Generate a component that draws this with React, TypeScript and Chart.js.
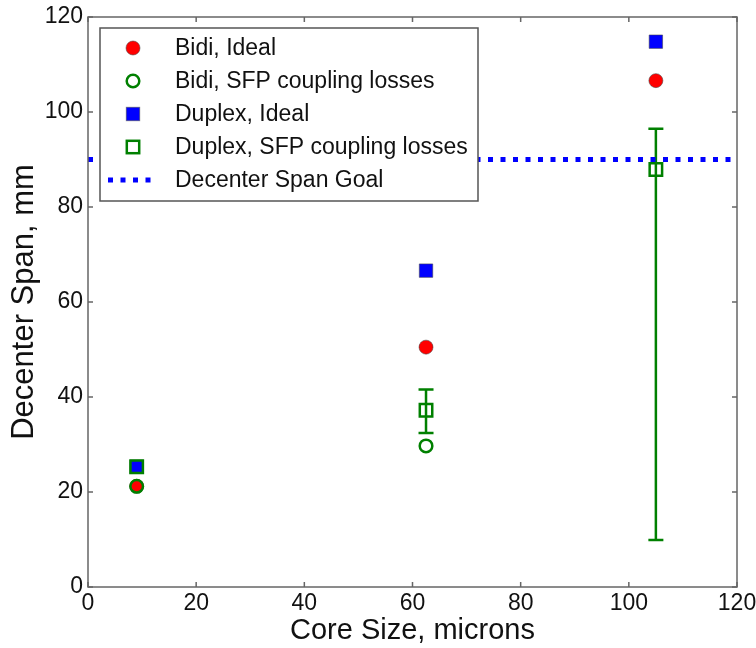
import { useEffect, useRef } from "react";
import { Chart, registerables } from "chart.js";
Chart.register(...registerables);

const FONT = "'Liberation Sans', Arial, sans-serif";

const coreSizes = [9, 62.5, 105];
const bidiIdeal = [21.2, 50.5, 106.6];
const bidiSfp = [21.2, 29.7, null];
const duplexIdeal = [25.3, 66.6, 114.8];
const duplexSfp = [25.3, 37.2, 87.9];
const duplexSfpLow = [null, 32.4, 9.9];
const duplexSfpHigh = [null, 41.6, 96.5];
const goalSpan = [0, 120];
const goalValue = 90;
const xTicks = [0, 20, 40, 60, 80, 100, 120];
const yTicks = [0, 20, 40, 60, 80, 100, 120];

const seriesNames = [
  "Bidi, Ideal",
  "Bidi, SFP coupling losses",
  "Duplex, Ideal",
  "Duplex, SFP coupling losses",
  "Decenter Span Goal",
];

const toPts = (ys: (number | null)[]) =>
  coreSizes
    .map((x, i) => ({ x, y: ys[i] }))
    .filter((p) => p.y !== null) as { x: number; y: number }[];

const RED = "#ff0000";
const GREEN = "#008000";
const BLUE = "#0000ff";
const EDGE = "rgba(70,70,70,0.55)";

function drawMarker(ctx: CanvasRenderingContext2D, kind: number, x: number, y: number) {
  ctx.save();
  ctx.setLineDash([]);
  if (kind === 0) {
    ctx.beginPath();
    ctx.arc(x, y, 7, 0, Math.PI * 2);
    ctx.fillStyle = RED;
    ctx.fill();
    ctx.strokeStyle = EDGE;
    ctx.lineWidth = 1;
    ctx.stroke();
  } else if (kind === 1) {
    ctx.beginPath();
    ctx.arc(x, y, 6.3, 0, Math.PI * 2);
    ctx.strokeStyle = GREEN;
    ctx.lineWidth = 2.5;
    ctx.stroke();
  } else if (kind === 2) {
    const s = 6.7;
    ctx.fillStyle = BLUE;
    ctx.fillRect(x - s, y - s, 2 * s, 2 * s);
    ctx.strokeStyle = EDGE;
    ctx.lineWidth = 1;
    ctx.strokeRect(x - s, y - s, 2 * s, 2 * s);
  } else if (kind === 3) {
    const s = 6.2;
    ctx.strokeStyle = GREEN;
    ctx.lineWidth = 2.5;
    ctx.strokeRect(x - s, y - s, 2 * s, 2 * s);
  } else {
    ctx.strokeStyle = BLUE;
    ctx.lineWidth = 5;
    ctx.setLineDash([5, 7.5]);
    ctx.beginPath();
    ctx.moveTo(x - 25, y);
    ctx.lineTo(x + 25, y);
    ctx.stroke();
  }
  ctx.restore();
}

const framePlugin = {
  id: "frameTicks",
  beforeDatasetsDraw(chart: any) {
    const { ctx, scales } = chart;
    ctx.save();
    ctx.strokeStyle = GREEN;
    ctx.lineWidth = 2.5;
    coreSizes.forEach((xv, i) => {
      const lo = duplexSfpLow[i];
      const hi = duplexSfpHigh[i];
      if (lo === null || hi === null) return;
      const px = scales.x.getPixelForValue(xv);
      const y1 = scales.y.getPixelForValue(lo);
      const y2 = scales.y.getPixelForValue(hi);
      ctx.beginPath();
      ctx.moveTo(px, y1);
      ctx.lineTo(px, y2);
      ctx.moveTo(px - 7.5, y1);
      ctx.lineTo(px + 7.5, y1);
      ctx.moveTo(px - 7.5, y2);
      ctx.lineTo(px + 7.5, y2);
      ctx.stroke();
    });
    ctx.restore();
  },
  afterDatasetsDraw(chart: any) {
    const { ctx, chartArea: a, scales } = chart;
    ctx.save();
    ctx.strokeStyle = "#666";
    ctx.lineWidth = 1.5;
    ctx.beginPath();
    const T = 5;
    xTicks.forEach((v) => {
      const px = scales.x.getPixelForValue(v);
      ctx.moveTo(px, a.bottom);
      ctx.lineTo(px, a.bottom - T);
      ctx.moveTo(px, a.top);
      ctx.lineTo(px, a.top + T);
    });
    yTicks.forEach((v) => {
      const py = scales.y.getPixelForValue(v);
      ctx.moveTo(a.left, py);
      ctx.lineTo(a.left + T, py);
      ctx.moveTo(a.right, py);
      ctx.lineTo(a.right - T, py);
    });
    ctx.stroke();
    ctx.strokeRect(a.left, a.top, a.right - a.left, a.bottom - a.top);
    ctx.restore();
  },
  afterDraw(chart: any) {
    const { ctx, chartArea: a } = chart;
    const bx = a.left + 12;
    const by = a.top + 11;
    const bw = 378;
    const bh = 173;
    ctx.save();
    ctx.fillStyle = "#ffffff";
    ctx.fillRect(bx, by, bw, bh);
    ctx.strokeStyle = "#555";
    ctx.lineWidth = 1.5;
    ctx.strokeRect(bx, by, bw, bh);
    ctx.font = `23px ${FONT}`;
    ctx.textBaseline = "middle";
    ctx.textAlign = "left";
    seriesNames.forEach((name, i) => {
      const cy = by + 20 + i * 33;
      drawMarker(ctx, i, bx + 33, cy);
      ctx.fillStyle = "#111";
      ctx.fillText(name, bx + 75, cy + 1);
    });
    ctx.restore();
  },
};

export default function App() {
  const ref = useRef<HTMLCanvasElement | null>(null);
  useEffect(() => {
    document.body.style.margin = "0";
    const canvas = ref.current;
    if (!canvas) return;
    const tickFont = { family: FONT, size: 23 };
    const chart = new Chart(canvas, {
      type: "scatter",
      data: {
        datasets: [
          {
            label: seriesNames[3],
            data: toPts(duplexSfp),
            pointStyle: "rect",
            pointRadius: 8.8,
            backgroundColor: "rgba(0,0,0,0)",
            borderColor: GREEN,
            borderWidth: 2.5,
            order: 1,
          } as any,
          {
            label: seriesNames[1],
            data: toPts(bidiSfp),
            pointStyle: "circle",
            pointRadius: 6.3,
            backgroundColor: "rgba(0,0,0,0)",
            borderColor: GREEN,
            borderWidth: 2.5,
            order: 2,
          },
          {
            label: seriesNames[2],
            data: toPts(duplexIdeal),
            pointStyle: "rect",
            pointRadius: 9.5,
            backgroundColor: BLUE,
            borderColor: EDGE,
            borderWidth: 1,
            order: 3,
          },
          {
            label: seriesNames[0],
            data: toPts(bidiIdeal),
            pointStyle: "circle",
            pointRadius: 7,
            backgroundColor: RED,
            borderColor: EDGE,
            borderWidth: 1,
            order: 4,
          },
          {
            type: "line",
            label: seriesNames[4],
            data: goalSpan.map((x) => ({ x, y: goalValue })),
            borderColor: BLUE,
            borderWidth: 5,
            borderDash: [5, 7.5],
            borderCapStyle: "butt",
            pointRadius: 0,
            fill: false,
            order: 5,
          } as any,
        ],
      },
      options: {
        animation: false,
        responsive: false,
        maintainAspectRatio: false,
        events: [],
        layout: { padding: { top: 17, right: 19, left: 0, bottom: 0 } },
        plugins: { legend: { display: false }, tooltip: { enabled: false } },
        scales: {
          x: {
            type: "linear",
            min: 0,
            max: 120,
            afterBuildTicks: (s: any) => {
              s.ticks = xTicks.map((v) => ({ value: v }));
            },
            afterFit: (s: any) => {
              s.height = 61;
              s.paddingRight = 0;
              s.paddingLeft = 0;
            },
            grid: { display: false, drawTicks: false },
            border: { display: false },
            ticks: { font: tickFont, color: "#111", padding: 3, maxRotation: 0, autoSkip: false },
            title: {
              display: true,
              text: "Core Size, microns",
              font: { family: FONT, size: 29 },
              color: "#111",
              padding: { top: 0, bottom: 0 },
            },
          },
          y: {
            type: "linear",
            min: 0,
            max: 120,
            afterBuildTicks: (s: any) => {
              s.ticks = yTicks.map((v) => ({ value: v }));
            },
            afterFit: (s: any) => {
              s.width = 88;
              s.paddingTop = 0;
              s.paddingBottom = 0;
            },
            grid: { display: false, drawTicks: false },
            border: { display: false },
            ticks: { font: tickFont, color: "#111", padding: 5, autoSkip: false },
            title: {
              display: true,
              text: "Decenter Span, mm",
              font: { family: FONT, size: 31 },
              color: "#111",
              padding: { top: 6, bottom: 0 },
            },
          },
        },
      },
      plugins: [framePlugin],
    });
    return () => chart.destroy();
  }, []);
  return <canvas ref={ref} width={756} height={648} style={{ display: "block" }} />;
}
